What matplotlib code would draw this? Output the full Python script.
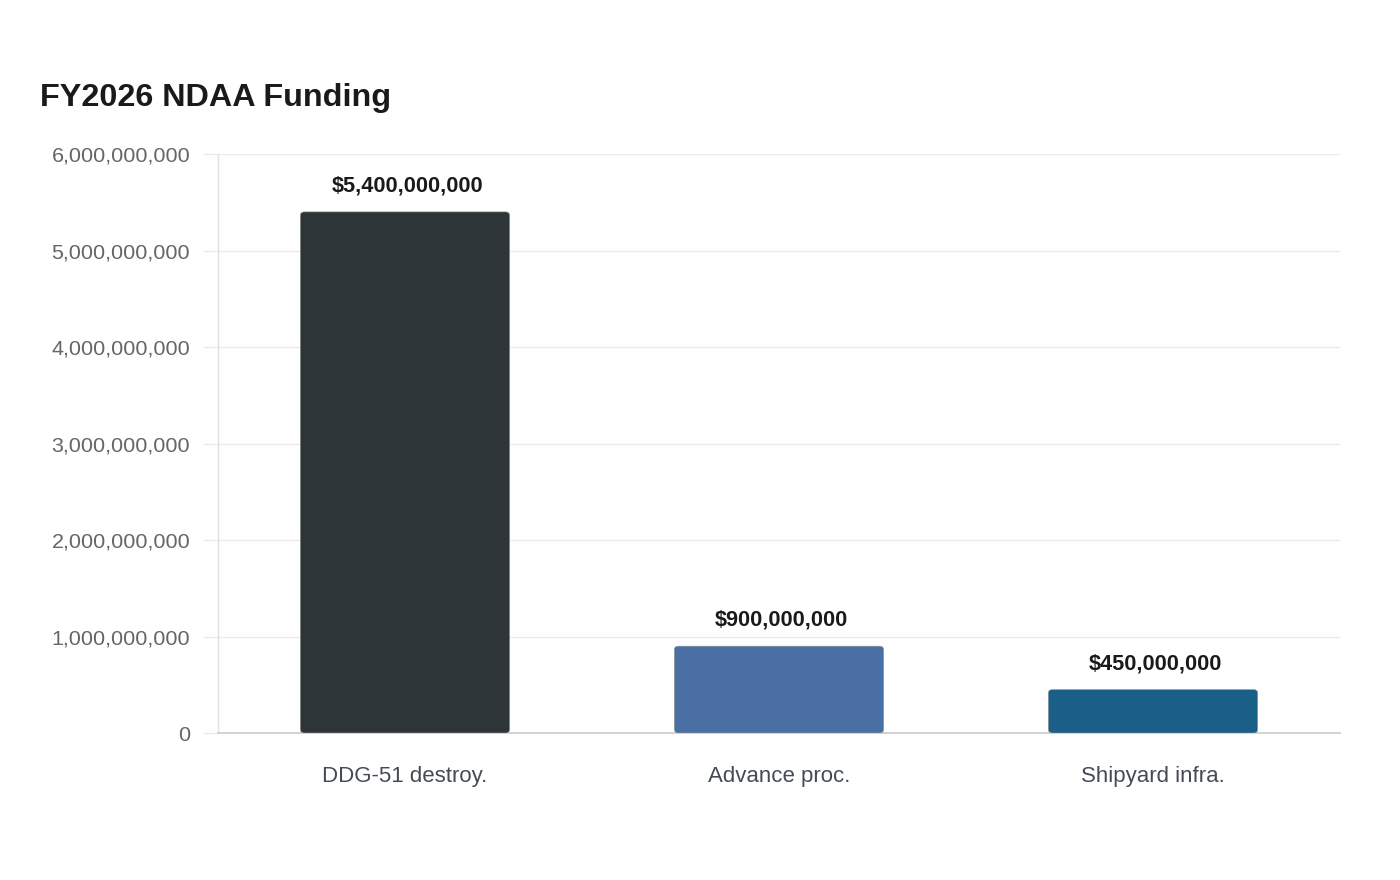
import matplotlib
matplotlib.use("Agg")
import matplotlib.pyplot as plt
from matplotlib.patches import FancyBboxPatch
from matplotlib.ticker import FuncFormatter

categories = ["DDG-51 destroy.", "Advance proc.", "Shipyard infra."]
values = [5400000000, 900000000, 450000000]
colors = ["#2e3538", "#4a6fa5", "#1a5f87"]
title = "FY2026 NDAA Funding"

plt.rcParams['font.family'] = ['Liberation Sans', 'DejaVu Sans']

fig = plt.figure(figsize=(14, 8.8), dpi=100)
ax = fig.add_axes([218/1400, 1-733/880, (1340-218)/1400, (733-154)/880])

ax.set_xlim(-0.5, 2.5)
ax.set_ylim(0, 6e9)

# pixel scale for rounded corners
x_px = 1122/3.0
y_px = 579/6e9
r_px = 4
rx = r_px / x_px
aspect = (r_px / y_px) / rx

width = 0.56
for i, (v, c) in enumerate(zip(values, colors)):
    p = FancyBboxPatch((i - width/2, 0), width, v,
                       boxstyle=f"round,pad=0,rounding_size={rx}",
                       mutation_aspect=aspect,
                       facecolor=c, edgecolor="#9a9a9a", linewidth=0.4, zorder=3)
    ax.add_patch(p)
    ax.annotate(f"${v:,.0f}", xy=(i, v), xytext=(1.5, 18.5), textcoords="offset points",
                ha="center", va="center", fontsize=15.7, fontweight="bold",
                color="#1a1a1a", zorder=4)

ax.set_xticks(range(len(categories)))
ax.set_xticklabels(categories)
ax.set_yticks([0, 1e9, 2e9, 3e9, 4e9, 5e9, 6e9])
ax.yaxis.set_major_formatter(FuncFormatter(lambda v, p: f"{v:,.0f}"))

ax.grid(axis="y", color="#ebebeb", linewidth=1, zorder=0)
ax.set_axisbelow(True)
for s in ["top", "right"]:
    ax.spines[s].set_visible(False)
ax.spines["left"].set_color("#e0e0e0")
ax.spines["left"].set_linewidth(1)
ax.spines["bottom"].set_color("#cccccc")
ax.spines["bottom"].set_linewidth(1.2)

ax.tick_params(axis="y", length=11, width=1, color="#ebebeb", pad=9,
               labelsize=15.45, labelcolor="#666666")
ax.tick_params(axis="x", length=0, pad=24, labelsize=16, labelcolor="#454b55")

fig.text(40/1400, 1-98/880, title, fontsize=23.3, fontweight="bold",
         color="#1a1a1a", ha="left", va="center")

fig.savefig("out.png", dpi=100, facecolor="white")
